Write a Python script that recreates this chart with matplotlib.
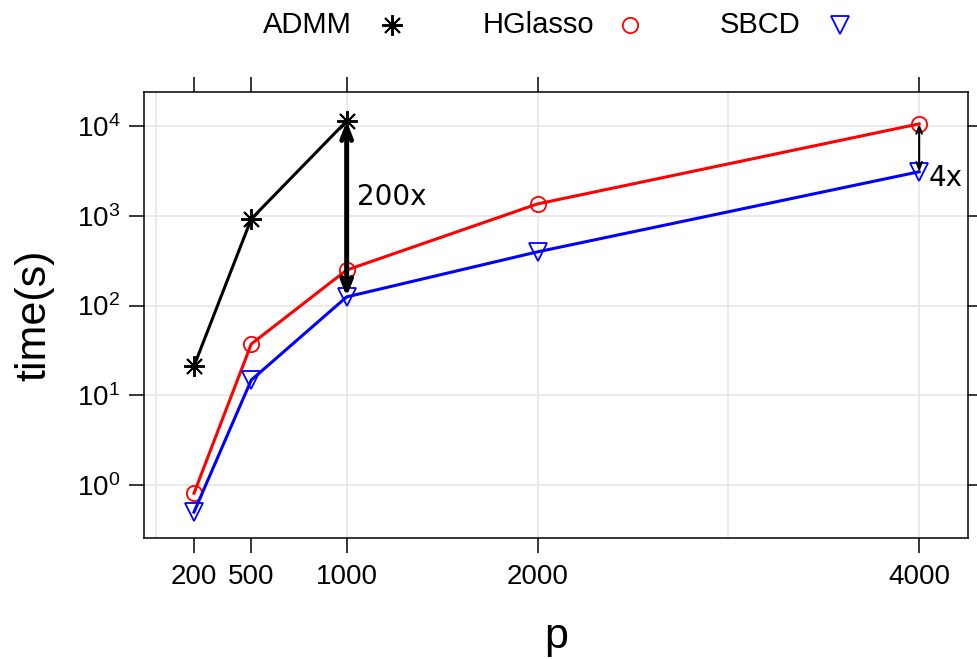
import matplotlib
matplotlib.use("Agg")
import matplotlib.pyplot as plt
from matplotlib.lines import Line2D
from matplotlib import font_manager

# Problem sizes and timings (seconds)
p_values = [200, 500, 1000, 2000, 4000]
admm_p = [200, 500, 1000]
admm_time = [21.2, 923, 11400]
hglasso_time = [0.81, 37.3, 249, 1358, 10590]
sbcd_time = [0.50, 14.8, 125, 397, 3100]

x_tick_labels = ["200", "500", "1000", "2000", "4000"]
y_ticks = [1, 10, 100, 1000, 10000]
y_tick_labels = [r"$\mathregular{10^{0}}$", r"$\mathregular{10^{1}}$", r"$\mathregular{10^{2}}$",
                 r"$\mathregular{10^{3}}$", r"$\mathregular{10^{4}}$"]
series_names = ["ADMM", "HGlasso", "SBCD"]
series_colors = ["black", "red", "blue"]

available = {f.name for f in font_manager.fontManager.ttflist}
sans = "Liberation Sans Narrow" if "Liberation Sans Narrow" in available else "Liberation Sans"
plt.rcParams["font.family"] = [sans, "DejaVu Sans"]
plt.rcParams["mathtext.fontset"] = "custom"
plt.rcParams["mathtext.rm"] = sans

fig = plt.figure(figsize=(9.77, 6.59), dpi=100)
ax = fig.add_axes([0.1474, 0.1836, 0.8434, 0.6768])

asterisk = (8, 2, 0)
styles = [
    dict(marker=asterisk, markersize=15, mew=1.4),
    dict(marker="o", markersize=11, mfc="none", mew=1.3),
    dict(marker="v", markersize=13, mfc="none", mew=1.3),
]
ax.plot(admm_p, admm_time, color=series_colors[0], lw=2.2, zorder=3, **styles[0])
ax.plot(p_values, hglasso_time, color=series_colors[1], lw=2.2, zorder=3, **styles[1])
ax.plot(p_values, sbcd_time, color=series_colors[2], lw=2.2, zorder=3, **styles[2])

ax.set_yscale("log")
ax.set_xlim(-62, 4256)
ax.set_ylim(10 ** -0.59, 10 ** 4.38)

# grid
for gx in [0, 1000, 2000, 3000, 4000]:
    ax.axvline(gx, color="#e6e6e6", lw=1.2, zorder=0)
for gy in y_ticks:
    ax.axhline(gy, color="#e6e6e6", lw=1.2, zorder=0)

# speed-up arrows
ax.annotate("", xy=(1000, sbcd_time[2]), xytext=(1000, admm_time[2]),
            arrowprops=dict(arrowstyle="<->,head_length=0.9,head_width=0.35",
                            lw=3.6, color="black", shrinkA=0, shrinkB=0), zorder=4)
ax.text(1055, 1623, "200x", fontsize=20, family="DejaVu Sans", va="center", ha="left")
ax.annotate("", xy=(4000, sbcd_time[4]), xytext=(4000, hglasso_time[4]),
            arrowprops=dict(arrowstyle="<->,head_length=0.5,head_width=0.2",
                            lw=1.5, color="black", shrinkA=0, shrinkB=0), zorder=4)
ax.text(4050, 2640, "4x", fontsize=20, family="DejaVu Sans", va="center", ha="left")

ax.set_xticks(p_values)
ax.set_xticklabels(x_tick_labels)
ax.set_yticks(y_ticks)
ax.set_yticklabels(y_tick_labels)
ax.minorticks_off()
ax.tick_params(axis="both", which="major", direction="out", length=11, width=1.1,
               labelsize=20, top=True, right=True, labeltop=False, labelright=False)
ax.tick_params(axis="x", pad=8)
ax.tick_params(axis="y", pad=6)
for s in ax.spines.values():
    s.set_linewidth(1.1)

ax.set_xlabel("p", fontsize=31, labelpad=19)
ax.set_ylabel("time(s)", fontsize=31, labelpad=16)

# key along the top
key_text_x = [263 / 977, 483 / 977, 720 / 977]
key_mark_x = [392 / 977, 630 / 977, 840 / 977]
key_y = 1 - 25 / 659
for name, color, st, tx, mx in zip(series_names, series_colors, styles, key_text_x, key_mark_x):
    fig.text(tx, key_y, name, fontsize=21, ha="left", va="center")
    fig.add_artist(Line2D([mx], [key_y], transform=fig.transFigure, ls="none",
                          color=color, **st))

fig.savefig("out.png", dpi=100)
